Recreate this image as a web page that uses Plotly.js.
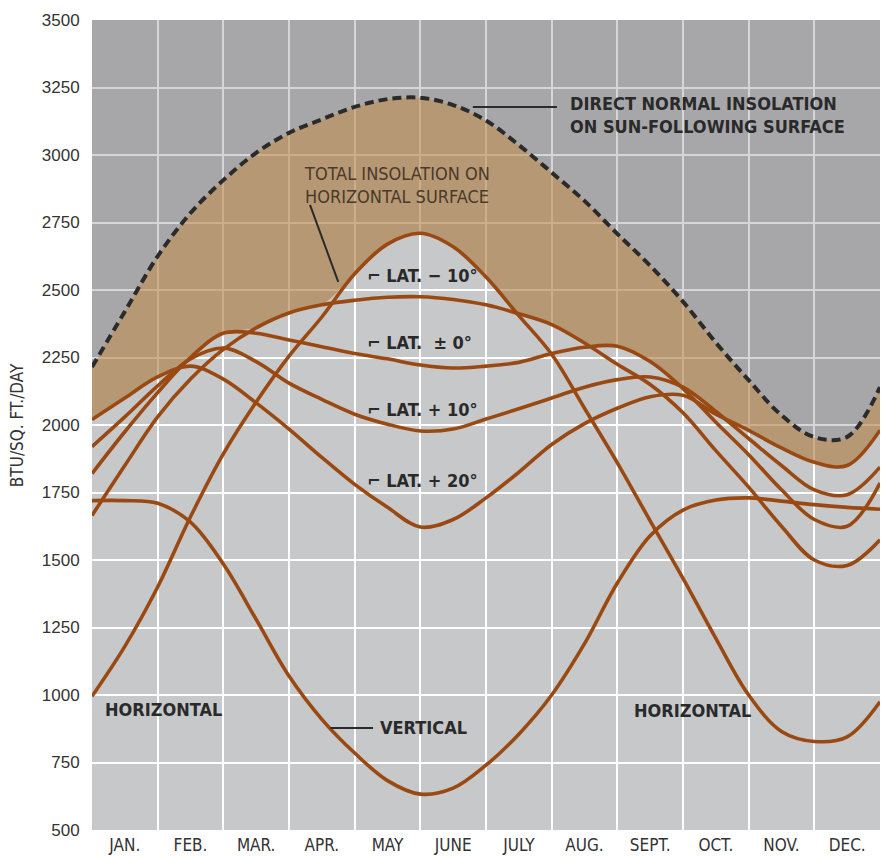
<!DOCTYPE html>
<html><head><meta charset="utf-8">
<script src="https://cdn.plot.ly/plotly-3.0.1.min.js"></script>
<style>html,body{margin:0;padding:0;background:#fff;}#chart{width:884px;height:857px;}</style>
</head><body><div id="chart"></div>
<script>
// ---- data ----
const months = ['JAN.','FEB.','MAR.','APR.','MAY','JUNE','JULY','AUG.','SEPT.','OCT.','NOV.','DEC.'];
const monthPos = [0.5,1.5,2.5,3.5,4.5,5.5,6.5,7.5,8.5,9.5,10.5,11.5];
const xs = [0,0.5,1,1.5,2,2.5,3,3.5,4,4.5,5,5.5,6,6.5,7,7.5,8,8.5,9,9.5,10,10.5,11,11.5,12];
const directNormal = [2215,2420,2625,2785,2907,3008,3082,3132,3178,3207,3212,3185,3128,3037,2935,2830,2708,2590,2457,2305,2166,2036,1955,1956,2140];
const horizontal   = [995,1180,1400,1660,1893,2085,2255,2400,2560,2670,2710,2660,2548,2405,2262,2062,1860,1645,1432,1210,1000,865,828,845,975];
const vertical     = [1720,1720,1710,1640,1485,1280,1070,910,785,683,633,655,740,855,1000,1190,1415,1590,1685,1722,1730,1718,1705,1695,1688];
const latMinus10   = [1665,1850,2030,2170,2280,2360,2415,2445,2462,2473,2475,2465,2445,2412,2372,2304,2225,2150,2045,1905,1770,1625,1500,1480,1575];
const latZero      = [1820,1975,2120,2250,2340,2340,2315,2290,2265,2245,2222,2211,2218,2232,2265,2288,2292,2235,2135,2010,1890,1760,1650,1625,1785];
const latPlus10    = [1920,2030,2145,2245,2285,2235,2155,2095,2040,2003,1978,1985,2022,2060,2100,2140,2168,2178,2140,2050,1950,1850,1760,1742,1844];
const latPlus20    = [2020,2100,2178,2218,2170,2082,1985,1880,1780,1695,1622,1650,1730,1825,1928,2005,2062,2105,2110,2040,1980,1915,1862,1850,1981];
const yRange = [500,3500];
const xRange = [0,12];

// upper envelope of the surface curves (lower edge of the tan band)
const envelope = xs.map((_, i) => Math.max(latMinus10[i], latZero[i], latPlus10[i], latPlus20[i], horizontal[i]));

const BROWN = '#9a4912';
const NARROW = "'Liberation Sans Narrow','DejaVu Sans Condensed','Roboto Condensed','Arial Narrow',sans-serif";
const TXT = '#2a2a2a';

const traces = [];
// dark region above the direct-normal curve
traces.push({x: xRange, y: [yRange[1], yRange[1]], mode: 'lines', line: {width: 0}, hoverinfo: 'skip', showlegend: false});
traces.push({x: xs, y: directNormal, mode: 'lines', line: {width: 0, shape: 'spline'}, fill: 'tonexty', fillcolor: 'rgba(0,0,0,0.16)', hoverinfo: 'skip', showlegend: false});
// tan band between envelope and direct normal
traces.push({x: xs, y: envelope, mode: 'lines', line: {width: 0, shape: 'spline'}, hoverinfo: 'skip', showlegend: false});
traces.push({x: xs, y: directNormal, mode: 'lines', line: {width: 0, shape: 'spline'}, fill: 'tonexty', fillcolor: 'rgba(170,120,60,0.6)', hoverinfo: 'skip', showlegend: false});
// surface curves
[[latMinus10,'LAT -10'],[latZero,'LAT 0'],[latPlus10,'LAT +10'],[latPlus20,'LAT +20'],[horizontal,'Horizontal'],[vertical,'Vertical']].forEach(([ys, nm]) => {
  traces.push({x: xs, y: ys, name: nm, mode: 'lines', line: {color: BROWN, width: 3.6, shape: 'spline'}, showlegend: false});
});
// direct normal dashed line
traces.push({x: xs, y: directNormal, name: 'Direct normal', mode: 'lines', line: {color: '#2b2b2b', width: 4, dash: '9px,5px', shape: 'spline'}, showlegend: false});

const ann = (x, y, text, extra) => Object.assign({x, y, xref: 'x', yref: 'y', text, showarrow: false, xanchor: 'left', yanchor: 'middle', align: 'left', font: {family: NARROW, size: 18, color: TXT}}, extra || {});

const layout = {
  width: 884, height: 857,
  margin: {l: 92, r: 4, t: 20, b: 27},
  paper_bgcolor: '#ffffff',
  plot_bgcolor: '#c7c8ca',
  xaxis: {range: xRange, tickvals: monthPos, ticktext: months, showgrid: false, zeroline: false, showline: false,
          ticks: '', ticklabelstandoff: 3, tickfont: {family: NARROW, size: 17, color: '#333'},
          minor: {tick0: 0, dtick: 1, showgrid: true, gridcolor: '#ffffff', gridwidth: 2, ticks: ''}},
  yaxis: {range: yRange, dtick: 250, tick0: 500, showgrid: true, gridcolor: '#ffffff', gridwidth: 2, zeroline: false, showline: false,
          ticks: 'outside', ticklen: 8, tickcolor: 'rgba(0,0,0,0)',
          tickfont: {family: "'Liberation Sans',Arial,sans-serif", size: 17, color: '#333'}},
  annotations: [
    {xref: 'paper', yref: 'paper', x: -0.095, y: 0.5, text: 'BTU/SQ. FT./DAY', textangle: -90, showarrow: false,
     xanchor: 'center', yanchor: 'middle', font: {family: NARROW, size: 17, color: '#333'}},
    ann(7.25, 3148, '<b>DIRECT NORMAL INSOLATION<br>ON SUN-FOLLOWING SURFACE</b>'),
    ann(3.2, 2889, 'TOTAL INSOLATION ON<br>HORIZONTAL SURFACE', {font: {family: NARROW, size: 18, color: '#4a3a2a'}}),
    ann(4.16, 2552, '<b>⌐ LAT. − 10°</b>'),
    ann(4.16, 2304, '<b>⌐ LAT.  ± 0°</b>'),
    ann(4.16, 2056, '<b>⌐ LAT. + 10°</b>'),
    ann(4.16, 1796, '<b>⌐ LAT. + 20°</b>'),
    ann(0.16, 948, '<b>HORIZONTAL</b>'),
    ann(8.22, 944, '<b>HORIZONTAL</b>'),
    ann(4.36, 881, '<b>VERTICAL</b>')
  ],
  shapes: [
    {type: 'line', xref: 'x', yref: 'y', x0: 5.8, y0: 3178, x1: 7.08, y1: 3178, line: {color: '#2a2a2a', width: 2}},
    {type: 'line', xref: 'x', yref: 'y', x0: 3.32, y0: 2815, x1: 3.75, y1: 2530, line: {color: '#2a2a2a', width: 2}},
    {type: 'line', xref: 'x', yref: 'y', x0: 3.63, y0: 878, x1: 4.28, y1: 878, line: {color: '#2a2a2a', width: 2}}
  ]
};

Plotly.newPlot('chart', traces, layout, {staticPlot: true, displayModeBar: false});
</script>
</body></html>
